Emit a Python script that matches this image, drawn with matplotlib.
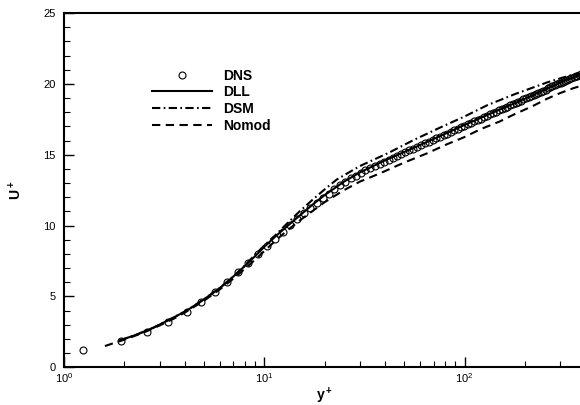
#!/usr/bin/env python
# -*- encoding = utf-8 -*-
# Mean velocity profile U+ vs y+ : DNS / DLL / DSM / Nomod
import numpy as np
import matplotlib
matplotlib.use('Agg')
import matplotlib.pyplot as plt
from matplotlib.ticker import LogLocator, MultipleLocator

plt.rcParams['font.family'] = ['Liberation Sans', 'DejaVu Sans']
plt.rcParams['mathtext.fontset'] = 'custom'
plt.rcParams['mathtext.rm'] = 'Liberation Sans'
plt.rcParams['mathtext.bf'] = 'Liberation Sans:bold'

# DNS
dns_y = [1.25, 1.92, 2.6, 3.32, 4.09, 4.84, 5.69, 6.53, 7.39, 8.28, 9.3, 10.3, 11.35,
         12.4, 13.5, 14.6, 15.8, 17.0, 18.3, 19.6, 21.0, 22.4, 23.9, 25.4, 27.0, 28.6,
         30.3, 32.0, 33.8, 35.7, 37.6, 39.6, 41.7, 43.8, 46.0, 48.3, 50.6, 53.0, 55.5,
         58.1, 60.8, 63.5, 66.3, 69.2, 72.2, 75.3, 78.5, 81.8, 85.2, 88.7, 92.3, 96.0,
         99.8, 103.7, 107.7, 111.8, 116.0, 120.3, 124.7, 129.2, 133.8, 138.5, 143.3,
         148.2, 153.2, 158.3, 163.5, 168.8, 174.2, 179.7, 185.3, 191.0, 196.8, 202.7,
         208.7, 214.8, 221.0, 227.3, 233.7, 240.2, 246.8, 253.5, 260.3, 267.2, 274.2,
         281.3, 288.5, 295.8, 303.2, 310.7, 318.3, 326.0, 333.8, 341.7, 349.7, 357.8,
         366.0, 374.3, 382.7, 391.2]
dns_u = [1.2, 1.83, 2.5, 3.18, 3.9, 4.62, 5.33, 6.04, 6.72, 7.38, 7.98, 8.56, 9.08,
         9.58, 10.05, 10.48, 10.9, 11.27, 11.62, 11.95, 12.25, 12.55, 12.85, 13.1, 13.33, 13.53,
         13.72, 13.89, 14.05, 14.21, 14.35, 14.5, 14.64, 14.78, 14.91, 15.04, 15.17, 15.3, 15.42,
         15.55, 15.68, 15.8, 15.91, 16.03, 16.15, 16.26, 16.38, 16.49, 16.6, 16.71, 16.82, 16.93,
         17.04, 17.15, 17.25, 17.35, 17.45, 17.55, 17.65, 17.75, 17.84, 17.94, 18.03,
         18.13, 18.22, 18.31, 18.4, 18.48, 18.57, 18.66, 18.74, 18.82, 18.91, 18.99,
         19.07, 19.15, 19.22, 19.3, 19.38, 19.45, 19.53, 19.6, 19.68, 19.75, 19.82,
         19.89, 19.96, 20.03, 20.09, 20.16, 20.23, 20.29, 20.36, 20.42, 20.47, 20.53,
         20.58, 20.63, 20.67, 20.7]

# DLL
dll_y = [1.9, 2.3, 2.8, 3.4, 4.1, 5, 6, 7, 8, 9, 10, 11.5, 13, 15, 17.5, 20, 25, 30,
         40, 55, 75, 100, 140, 200, 270, 340, 400]
dll_u = [1.9, 2.3, 2.8, 3.4, 4.0, 4.8, 5.6, 6.4, 7.15, 7.85, 8.5, 9.3, 9.95, 10.7, 11.5,
         12.15, 13.1, 13.75, 14.6, 15.45, 16.3, 17.1, 18.0, 18.95, 19.8, 20.4, 20.75]

# DSM
dsm_y = [1.9, 2.3, 2.8, 3.4, 4.1, 5, 6, 7, 8, 9, 10, 11.5, 13, 15, 17.5, 20, 23, 30,
         42, 55, 75, 100, 130, 180, 258, 310, 350, 400]
dsm_u = [1.9, 2.3, 2.8, 3.4, 4.0, 4.8, 5.6, 6.4, 7.2, 7.95, 8.6, 9.4, 10.15, 11.0, 11.85,
         12.55, 13.25, 14.2, 15.15, 16.0, 16.9, 17.7, 18.5, 19.3, 20.1, 20.45, 20.65, 20.75]

# Nomod
nomod_y = [1.6, 2, 2.5, 3, 3.5, 4, 5, 6, 7, 8, 9, 10, 11.5, 13, 15, 17.5, 20, 25, 30,
           38, 50, 65, 82, 100, 120, 150, 174, 220, 258, 300, 350, 400]
nomod_u = [1.5, 1.95, 2.45, 2.95, 3.4, 3.85, 4.7, 5.5, 6.25, 6.95, 7.6, 8.2, 9.0, 9.65,
           10.35, 11.05, 11.65, 12.5, 13.1, 13.7, 14.45, 15.1, 15.75, 16.25, 16.8, 17.35,
           17.8, 18.45, 18.95, 19.35, 19.7, 19.95]

fig = plt.figure(figsize=(5.8, 4.05), dpi=100)
ax = fig.add_axes([64/580, 1-367.3/405, 521.2/580, 354.3/405])

ax.plot(dns_y, dns_u, 'o', ms=5, mfc='none', mec='k', mew=0.8, label='DNS')
ax.plot(dll_y, dll_u, '-', color='k', lw=1.5, label='DLL')
ax.plot(dsm_y, dsm_u, color='k', lw=1.5, dashes=(4, 1.6, 0.8, 1.6), label='DSM')
ax.plot(nomod_y, nomod_u, color='k', lw=1.5, dashes=(4, 2.6), label='Nomod')

ax.set_xscale('log')
ax.set_xlim(1, 400)
ax.set_ylim(0, 25)
ax.yaxis.set_major_locator(MultipleLocator(5))
ax.yaxis.set_minor_locator(MultipleLocator(1))
ax.xaxis.set_major_locator(LogLocator(base=10))
ax.xaxis.set_minor_locator(LogLocator(base=10, subs=np.arange(2, 10)))

for s in ax.spines.values():
    s.set_linewidth(1.5)
ax.tick_params(which='both', direction='in', top=False, right=False, labelsize=8)
ax.tick_params(which='major', length=7, width=1)
ax.tick_params(which='minor', length=4, width=0.8)
ax.tick_params(axis='y', pad=6)
ax.tick_params(axis='x', pad=2.5)

ax.set_xlabel(r'$\mathbf{y^+}$', fontsize=10, labelpad=1)
ax.set_ylabel(r'$\mathbf{U^+}$', fontsize=10, labelpad=14)

ax.legend(loc='upper left', bbox_to_anchor=(152/580, 1-68.5/405), bbox_transform=fig.transFigure,
          frameon=False, borderpad=0, borderaxespad=0, handlelength=4.3, handletextpad=0.85,
          labelspacing=0.2, numpoints=1, prop={'weight': 'bold', 'size': 10})

fig.savefig('out.png', dpi=100)
